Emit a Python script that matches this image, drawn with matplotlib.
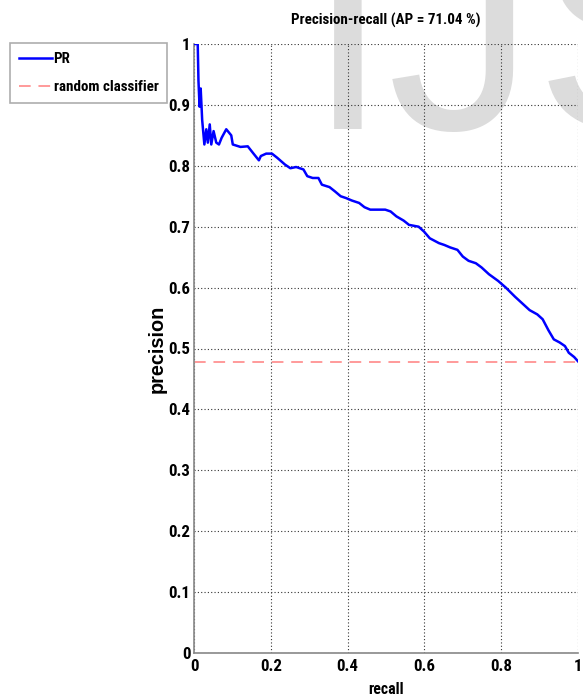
import os
import matplotlib
matplotlib.use("Agg")
import matplotlib.pyplot as plt
from matplotlib import font_manager
from matplotlib.font_manager import FontProperties
from matplotlib.textpath import TextPath

# precision-recall curve points
recall = [0.0, 0.003, 0.0097, 0.0116, 0.0145, 0.0174, 0.0213, 0.027, 0.032, 0.036,
          0.041, 0.045, 0.051, 0.058, 0.065, 0.072, 0.084, 0.097, 0.101, 0.121,
          0.140, 0.155, 0.169, 0.174, 0.188, 0.203, 0.217, 0.237, 0.251, 0.266,
          0.285, 0.295, 0.309, 0.324, 0.333, 0.353, 0.367, 0.382, 0.396, 0.411,
          0.430, 0.444, 0.459, 0.478, 0.498, 0.512, 0.527, 0.546, 0.560, 0.585,
          0.599, 0.614, 0.638, 0.652, 0.667, 0.686, 0.700, 0.715, 0.734, 0.749,
          0.768, 0.792, 0.812, 0.836, 0.855, 0.874, 0.894, 0.908, 0.923, 0.937,
          0.952, 0.966, 0.976, 0.990, 1.0]
precision = [1.0, 1.0, 1.0, 0.94, 0.897, 0.927, 0.875, 0.835, 0.86, 0.838,
             0.868, 0.835, 0.857, 0.838, 0.835, 0.846, 0.86, 0.85, 0.835, 0.831,
             0.832, 0.82, 0.809, 0.816, 0.82, 0.82, 0.813, 0.802, 0.796, 0.798,
             0.794, 0.783, 0.78, 0.78, 0.769, 0.765, 0.758, 0.75, 0.747, 0.743,
             0.739, 0.732, 0.728, 0.728, 0.728, 0.725, 0.717, 0.71, 0.703, 0.70,
             0.692, 0.681, 0.673, 0.67, 0.666, 0.662, 0.651, 0.644, 0.64, 0.633,
             0.622, 0.611, 0.60, 0.585, 0.574, 0.563, 0.556, 0.548, 0.53, 0.515,
             0.51, 0.504, 0.493, 0.486, 0.479]
baseline = 0.478
ap = 71.04
yticks = [0, 0.1, 0.2, 0.3, 0.4, 0.5, 0.6, 0.7, 0.8, 0.9, 1]
xticks = [0, 0.2, 0.4, 0.6, 0.8, 1]

DPI = 100


def tick_text(v):
    return "0" if v == 0 else ("1" if v == 1 else f"{v:g}")


def narrow_bold_file():
    files = {}
    for f in font_manager.fontManager.ttflist:
        files[os.path.basename(f.fname).lower().rsplit(".", 1)[0]] = f.fname
    prefs = ["liberationsansnarrow-bold", "arialnarrowbold", "arialnb",
             "robotocondensed-bold", "dejavusanscondensed-bold",
             "notosans-condensedbold", "opensans-condensedbold"]
    for p in prefs:
        if p in files:
            return files[p]
    for k, v in sorted(files.items()):
        if ("narrow" in k or "condensed" in k) and "bold" in k and not any(
                w in k for w in ("italic", "oblique", "semi", "extra", "ultra")):
            return v
    return font_manager.findfont(FontProperties(family="Liberation Sans", weight="bold"))


def fit_size(text, path, px):
    # point size at which `text` is `px` pixels wide
    w = TextPath((0, 0), text, size=1, prop=FontProperties(fname=path)).get_extents().width
    return px / w * 72 / DPI


narrow = narrow_bold_file()
wide = font_manager.findfont(FontProperties(family="Liberation Sans", weight="bold"))

tick_fp = FontProperties(fname=narrow, size=fit_size("0.2", narrow, 20.5))
title_fp = FontProperties(fname=narrow, size=fit_size("Precision-recall (AP = 71.04 %)", narrow, 188))
xlab_fp = FontProperties(fname=narrow, size=fit_size("recall", narrow, 34))
leg_fp = FontProperties(fname=narrow, size=fit_size("random classifier", narrow, 104))
ylab_fp = FontProperties(fname=wide, size=fit_size("precision", wide, 86))

fig = plt.figure(figsize=(5.83, 7.0), dpi=DPI)
ax = fig.add_axes([194 / 583, 47 / 700, 384 / 583, 609 / 700])
ax.set_facecolor("none")

# faint background lettering
fig.text(307 / 583, 1 - 129 / 700, "IJS", fontsize=212, family="Liberation Sans",
         color="#dcdcdc", ha="left", va="baseline", zorder=-5)

ax.plot(recall, precision, color="#0000ff", lw=1.8, label="PR", zorder=3)
ax.plot([0, 1], [baseline, baseline], color="#ff9a9a", lw=1.4, ls=(0, (6, 4)),
        label="random classifier", zorder=2)

ax.set_xlim(0, 1)
ax.set_ylim(0, 1)
ax.set_xticks(xticks)
ax.set_yticks(yticks)
ax.set_xticklabels([tick_text(v) for v in xticks])
ax.set_yticklabels([tick_text(v) for v in yticks])
for lab in ax.get_xticklabels() + ax.get_yticklabels():
    lab.set_fontproperties(tick_fp)
ax.tick_params(axis="x", length=0, pad=4)
ax.tick_params(axis="y", length=0, pad=2.5)
ax.grid(True, color="#333333", ls=(0, (1, 2)), lw=0.8)
ax.spines["top"].set_visible(False)
ax.spines["right"].set_visible(False)
for side in ("left", "bottom"):
    ax.spines[side].set_color("#888888")
    ax.spines[side].set_linewidth(1.2)
ax.set_axisbelow(True)

ax.set_title(f"Precision-recall (AP = {ap:.2f} %)", fontproperties=title_fp, pad=14)
ax.set_xlabel("recall", fontproperties=xlab_fp, labelpad=6)
ax.set_ylabel("precision", fontproperties=ylab_fp, labelpad=1)

leg = ax.legend(loc="upper left", bbox_to_anchor=(10 / 583, 1 - 43 / 700),
                bbox_transform=fig.transFigure, frameon=True, fancybox=False,
                prop=leg_fp, handlelength=2.2, handletextpad=0.1, borderpad=0.6,
                labelspacing=0.95, borderaxespad=0)
leg.get_frame().set_edgecolor("#999999")
leg.get_frame().set_linewidth(1.2)

fig.savefig("out.png", dpi=DPI)
